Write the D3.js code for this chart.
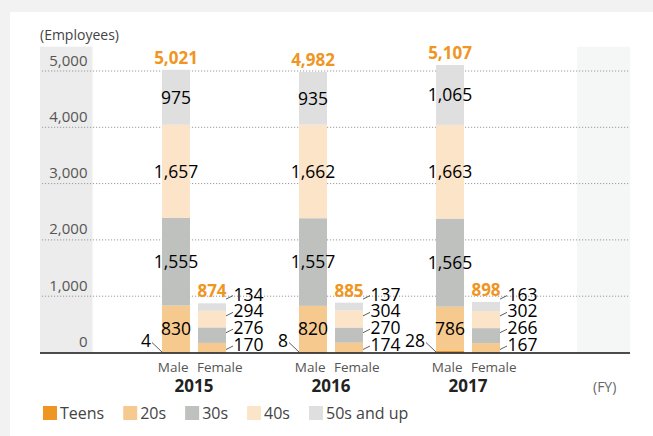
<!DOCTYPE html>
<html>
<head>
<meta charset="utf-8">
<script src="https://cdn.jsdelivr.net/npm/d3@7"></script>
<style>
  html, body { margin: 0; padding: 0; background: #f2f2f2; }
  svg { display: block; font-family: 'Open Sans', 'Noto Sans', sans-serif; }
</style>
</head>
<body>
<div id="chart"></div>
<script>
const years = ['2015', '2016', '2017'];
const sexes = ['Male', 'Female'];
const ageGroups = ['Teens', '20s', '30s', '40s', '50s and up'];
const ageColors = ['#ee9621', '#f6c98f', '#bfc1bf', '#fbe4c8', '#dfdfdf'];
const maleValues = [
  [4, 830, 1555, 1657, 975],
  [8, 820, 1557, 1662, 935],
  [28, 786, 1565, 1663, 1065]
];
const femaleValues = [
  [0, 170, 276, 294, 134],
  [0, 174, 270, 304, 137],
  [0, 167, 266, 302, 163]
];
const yTicks = [0, 1000, 2000, 3000, 4000, 5000];

(function() {
  const width = 653;
  const height = 436;
  const svg = d3.select('#chart').append('svg')
    .attr('width', width)
    .attr('height', height);

  // white panel
  svg.append('rect')
    .attr('x', 10).attr('y', 12)
    .attr('width', width - 10).attr('height', height - 12)
    .attr('fill', '#fff');

  const yScale = d3.scaleLinear()
    .domain([0, 5000])
    .range([352.5, 71]);
  const xScale = d3.scaleBand()
    .domain(years)
    .range([125.5, 536.5]);
  const sexScale = d3.scaleBand()
    .domain(sexes)
    .range([-32, 32])
    .paddingInner(8 / 36);

  const plotLeft = 40;
  const plotRight = 630;
  const bandTop = 46.7;
  const fmt = d3.format(',');

  // side bands
  svg.append('rect')
    .attr('x', plotLeft).attr('y', bandTop)
    .attr('width', 52.5).attr('height', yScale(0) - bandTop)
    .attr('fill', '#ebeceb');
  svg.append('rect')
    .attr('x', 577).attr('y', bandTop)
    .attr('width', plotRight - 577).attr('height', yScale(0) - bandTop)
    .attr('fill', '#f5f7f6');

  // grid
  svg.append('g')
    .selectAll('line')
    .data(yTicks.filter(d => d > 0))
    .join('line')
    .attr('x1', plotLeft + 2).attr('x2', plotRight)
    .attr('y1', d => yScale(d)).attr('y2', d => yScale(d))
    .attr('stroke', '#9a9a9a')
    .attr('stroke-width', 1)
    .attr('stroke-dasharray', '1.2 1.8');

  // tick labels
  svg.append('g')
    .selectAll('text')
    .data(yTicks)
    .join('text')
    .attr('x', 87.5)
    .attr('y', d => yScale(d) - 5.5)
    .attr('text-anchor', 'end')
    .style('font-size', '15px')
    .attr('fill', '#555')
    .text(d => fmt(d));

  svg.append('text')
    .attr('x', 40).attr('y', 40)
    .style('font-size', '14px')
    .attr('fill', '#444')
    .text('(Employees)');

  const stackOf = values => {
    let acc = 0;
    return values.map((v, i) => {
      const s = {key: ageGroups[i], color: ageColors[i], value: v, y0: acc, y1: acc + v};
      acc += v;
      return s;
    });
  };

  years.forEach((year, yi) => {
    const cx = xScale(year) + xScale.bandwidth() / 2;
    const g = svg.append('g');
    const bw = sexScale.bandwidth();

    [maleValues[yi], femaleValues[yi]].forEach((values, si) => {
      const sex = sexes[si];
      const x0 = cx + sexScale(sex);
      const stack = stackOf(values).filter(d => d.value > 0);
      const total = d3.sum(values);

      g.append('g')
        .selectAll('rect')
        .data(stack)
        .join('rect')
        .attr('x', x0)
        .attr('width', bw)
        .attr('y', d => yScale(d.y1))
        .attr('height', d => yScale(d.y0) - yScale(d.y1))
        .attr('fill', d => d.color);

      // total
      g.append('text')
        .attr('x', x0 + bw / 2)
        .attr('y', yScale(total) - 6)
        .attr('text-anchor', 'middle')
        .style('font-size', '17px')
        .style('font-weight', 'bold')
        .attr('fill', '#ef9521')
        .text(fmt(total));

      if (sex === 'Male') {
        // inside labels
        g.append('g')
          .selectAll('text')
          .data(stack.slice(1))
          .join('text')
          .attr('x', x0 + bw / 2)
          .attr('y', d => yScale((d.y0 + d.y1) / 2))
          .attr('dy', '0.36em')
          .attr('text-anchor', 'middle')
          .style('font-size', '17.5px')
          .attr('fill', '#000')
          .text(d => fmt(d.value));
        // teens label
        g.append('line')
          .attr('x1', x0 - 10).attr('y1', yScale(0) - 10)
          .attr('x2', x0).attr('y2', yScale(0) - 0.5)
          .attr('stroke', '#333').attr('stroke-width', 0.8);
        g.append('text')
          .attr('x', x0 - 11)
          .attr('y', yScale(0) - 6)
          .attr('text-anchor', 'end')
          .style('font-size', '17.5px')
          .attr('fill', '#000')
          .text(fmt(values[0]));
      } else {
        const right = x0 + bw;
        const labels = g.append('g')
          .selectAll('g')
          .data(stack)
          .join('g')
          .attr('transform', (d, i) => `translate(${right}, ${yScale(0) - 1.5 - i * 16.8})`);
        labels.append('line')
          .attr('x1', 0).attr('y1', -1.5)
          .attr('x2', 7).attr('y2', -5)
          .attr('stroke', '#333').attr('stroke-width', 0.8);
        labels.append('text')
          .attr('x', 7.5)
          .style('font-size', '17.5px')
          .attr('fill', '#000')
          .text(d => fmt(d.value));
      }

      g.append('text')
        .attr('x', sex === 'Male' ? x0 + bw - 1.5 : x0 - 1)
        .attr('y', 371.5)
        .attr('text-anchor', sex === 'Male' ? 'end' : 'start')
        .style('font-size', '13.5px')
        .attr('fill', '#555')
        .text(sex);
    });

    g.append('text')
      .attr('x', cx)
      .attr('y', 392)
      .attr('text-anchor', 'middle')
      .style('font-size', '17px')
      .style('font-weight', 'bold')
      .attr('fill', '#222')
      .text(year);
  });

  // axis line
  svg.append('line')
    .attr('x1', plotLeft).attr('x2', plotRight)
    .attr('y1', yScale(0) + 0.5).attr('y2', yScale(0) + 0.5)
    .attr('stroke', '#111')
    .attr('stroke-width', 1.5);

  svg.append('text')
    .attr('x', 593).attr('y', 391.5)
    .style('font-size', '14px')
    .attr('fill', '#666')
    .text('(FY)');

  // legend
  let lx = 43;
  ageGroups.forEach((name, i) => {
    svg.append('rect')
      .attr('x', lx).attr('y', 406)
      .attr('width', 14).attr('height', 14)
      .attr('fill', ageColors[i]);
    const t = svg.append('text')
      .attr('x', lx + 17).attr('y', 419)
      .style('font-size', '16px')
      .attr('fill', '#444')
      .text(name);
    lx += 17 + t.node().getComputedTextLength() + 19;
  });
})();
</script>
</body>
</html>
